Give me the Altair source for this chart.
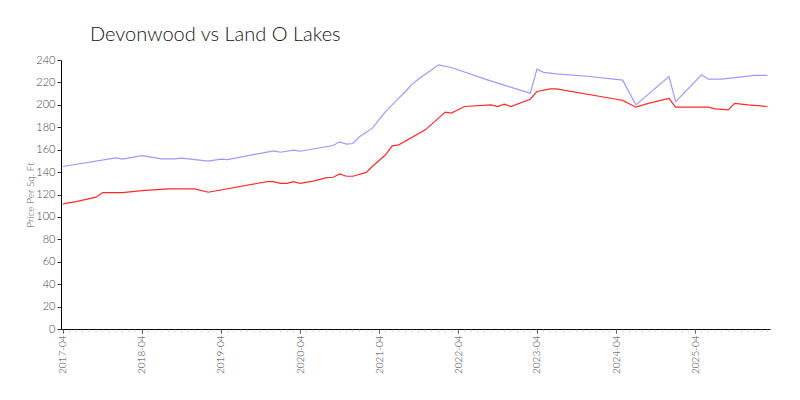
import altair as alt
import pandas as pd

# Devonwood (blue) series: vertices
dev_dates = ["2017-04-01", "2017-12-01", "2018-01-01", "2018-04-01", "2018-07-01", "2018-09-01",
             "2018-10-01", "2019-02-01", "2019-04-01", "2019-05-01", "2019-12-01", "2020-01-01",
             "2020-03-01", "2020-04-01", "2020-09-01", "2020-10-01", "2020-11-01", "2020-12-01",
             "2021-01-01", "2021-03-01", "2021-05-01", "2021-07-01", "2021-08-01", "2021-09-01",
             "2021-10-01", "2022-01-01", "2022-03-01", "2022-08-01", "2022-10-01", "2023-03-01",
             "2023-04-01", "2023-05-01", "2023-07-01", "2023-12-01", "2024-05-01", "2024-07-01",
             "2024-12-01", "2025-01-01", "2025-05-01", "2025-06-01", "2025-08-01", "2026-01-01",
             "2026-03-01"]
dev_values = [145.0, 152.7, 151.5, 154.7, 151.8, 151.8,
              152.4, 149.7, 151.5, 151.2, 158.9, 157.7,
              159.5, 158.6, 163.7, 167.0, 164.9, 165.5,
              171.5, 179.2, 194.0, 206.0, 211.9, 218.5,
              223.0, 235.7, 233.3, 223.2, 219.4, 210.4,
              231.8, 229.0, 227.7, 225.3, 222.0, 200.0,
              225.3, 202.9, 226.8, 222.9, 222.9, 226.2,
              226.2]

# Land O Lakes (red) series
lol_dates = ["2017-04-01", "2017-06-01", "2017-09-01", "2017-10-01", "2018-01-01", "2018-04-01",
             "2018-08-01", "2018-12-01", "2019-02-01", "2019-11-01", "2019-12-01", "2020-01-01",
             "2020-02-01", "2020-03-01", "2020-04-01", "2020-06-01", "2020-08-01", "2020-09-01",
             "2020-10-01", "2020-11-01", "2020-12-01", "2021-02-01", "2021-03-01", "2021-05-01",
             "2021-06-01", "2021-07-01", "2021-11-01", "2022-01-01", "2022-02-01", "2022-03-01",
             "2022-05-01", "2022-09-01", "2022-10-01", "2022-11-01", "2022-12-01", "2023-03-01",
             "2023-04-01", "2023-06-01", "2023-07-01", "2024-04-01", "2024-05-01", "2024-07-01",
             "2024-09-01", "2024-12-01", "2025-01-01", "2025-06-01", "2025-07-01", "2025-09-01",
             "2025-10-01", "2025-12-01", "2026-03-01"]
lol_values = [111.6, 113.7, 117.6, 121.7, 121.7, 123.5,
              125.0, 125.0, 122.0, 131.5, 131.5, 130.0,
              130.0, 131.5, 130.0, 132.0, 135.0, 135.4,
              138.4, 136.3, 136.3, 139.7, 145.0, 155.4,
              163.4, 164.3, 177.7, 188.1, 193.5, 192.6,
              198.5, 200.0, 198.5, 200.6, 198.5, 205.0,
              211.9, 214.3, 214.3, 205.0, 204.0, 197.9,
              201.5, 205.8, 197.9, 197.9, 196.4, 195.5,
              201.3, 200.0, 198.5]

y_ticks = list(range(0, 241, 20))
x_tick_years = list(range(2017, 2026))

df = pd.concat([
    pd.DataFrame({"date": dev_dates, "value": dev_values, "series": "Devonwood"}),
    pd.DataFrame({"date": lol_dates, "value": lol_values, "series": "Land O Lakes"}),
])
months = pd.DataFrame({"date": pd.date_range("2017-04-01", "2026-03-01", freq="MS").strftime("%Y-%m-%d")})

W, H = 709, 269
FONT = "Lato"

xscale = alt.Scale(type="utc",
                   domain=[alt.DateTime(year=2017, month=3, date=23, utc=True),
                           alt.DateTime(year=2026, month=3, date=13, utc=True)])
xaxis = alt.Axis(values=[alt.DateTime(year=y, month=4, date=1, utc=True) for y in x_tick_years],
                 labelExpr="utcFormat(datum.value, '%Y-%m')", labelAngle=-90, labelAlign="right",
                 labelBaseline="middle", labelFontSize=10, labelColor="#444",
                 labelFont=FONT, labelFontWeight=300, tickColor="#333", tickSize=4,
                 domainColor="#000", labelPadding=2, grid=False, title=None)

lines = alt.Chart(df).mark_line(strokeWidth=1.2, clip=True).encode(
    x=alt.X("date:T", scale=xscale, title=None, axis=xaxis),
    y=alt.Y("value:Q", scale=alt.Scale(domain=[0, 240], nice=False),
            axis=alt.Axis(values=y_ticks, title="Price Per Sq. Ft", titleFontSize=10,
                          titleColor="#555", titleFont=FONT, titleFontWeight=300,
                          labelFontSize=11, labelColor="#444", labelFont=FONT, labelFontWeight=300,
                          tickColor="#333", tickSize=4, domainColor="#000", grid=False,
                          titlePadding=0)),
    color=alt.Color("series:N", scale=alt.Scale(domain=["Devonwood", "Land O Lakes"],
                                                range=["#9a9aff", "#ff2a2a"]), legend=None),
)

minor = alt.Chart(months).mark_tick(orient="vertical", color="#c8c8c8", thickness=1, size=3).encode(
    x=alt.X("date:T", scale=xscale, title=None, axis=xaxis),
    y=alt.value(H + 2),
)

chart = alt.layer(lines, minor).properties(
    width=W, height=H,
    title=alt.TitleParams("Devonwood vs Land O Lakes", anchor="start", frame="group", dx=29,
                          offset=9, fontSize=20, font=FONT, fontWeight=300, color="#111"),
    autosize=alt.AutoSizeParams(type="none"),
    padding={"left": 53, "top": 52, "right": 22, "bottom": 63},
).configure_view(stroke=None)

chart.save("out.html", embed_options={"renderer": "svg", "actions": False})
